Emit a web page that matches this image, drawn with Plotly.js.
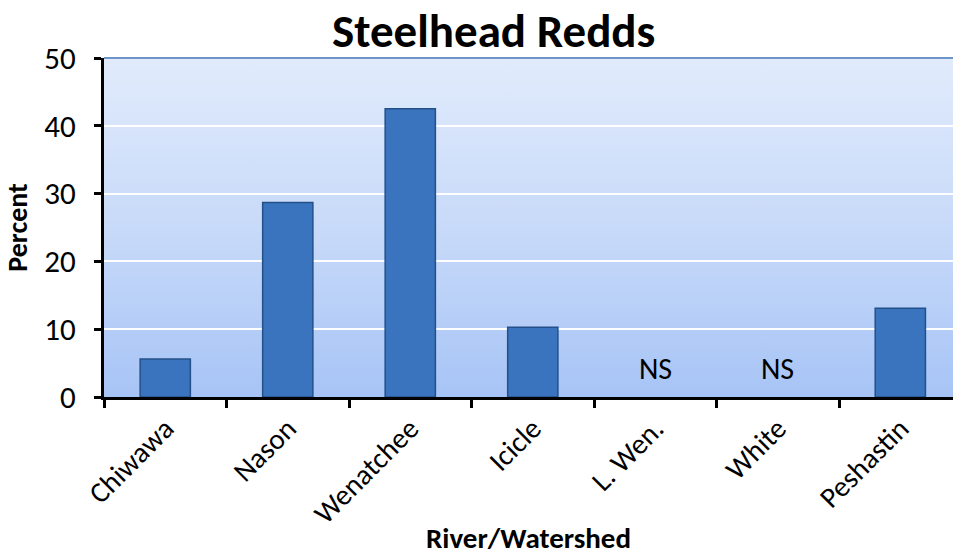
<!DOCTYPE html>
<html>
<head>
<meta charset="utf-8">
<script src="https://cdn.plot.ly/plotly-3.0.1.min.js"></script>
<style>html,body{margin:0;padding:0;background:#fff;overflow:hidden;}</style>
</head>
<body>
<div id="chart" style="width:953px;height:556px;"></div>
<script>
const categories = ["Chiwawa", "Nason", "Wenatchee", "Icicle", "L. Wen.", "White", "Peshastin"];
const percents = [5.6, 28.7, 42.5, 10.3, null, null, 13.1];
const notSampled = ["L. Wen.", "White"];
const nsLabel = "NS";
const nsY = 4.2;
const yTicks = [0, 10, 20, 30, 40, 50];

const FONT = "Carlito, Calibri, 'Open Sans', 'Noto Sans', sans-serif";

const gradSvg = '<svg xmlns="http://www.w3.org/2000/svg" width="10" height="100" preserveAspectRatio="none">' +
  '<defs><linearGradient id="g" x1="0" y1="0" x2="0" y2="1">' +
  '<stop offset="0" stop-color="#E1EBFC"/><stop offset="0.5" stop-color="#C8DAF9"/><stop offset="1" stop-color="#A7C4F6"/>' +
  '</linearGradient></defs><rect width="10" height="100" fill="url(#g)"/></svg>';
const gradUri = 'data:image/svg+xml;base64,' + btoa(gradSvg);

const trace = {
  type: 'bar',
  x: categories,
  y: percents,
  marker: { color: '#3A74BE', line: { color: '#24508A', width: 1.5 } },
  hoverinfo: 'x+y'
};

const annotations = notSampled.map(c => ({
  x: c, y: nsY, xref: 'x', yref: 'y', text: nsLabel, showarrow: false,
  font: { family: FONT, size: 30, color: '#000' }
}));

const layout = {
  width: 953, height: 556,
  margin: { l: 104, r: 0, t: 58, b: 159 },
  paper_bgcolor: '#fff',
  plot_bgcolor: 'rgba(0,0,0,0)',
  bargap: 0.59,
  showlegend: false,
  title: {
    text: '<b>Steelhead Redds</b>',
    font: { family: FONT, size: 47, color: '#000' },
    x: 0.518, xref: 'container', xanchor: 'center',
    y: 0.945, yref: 'container', yanchor: 'middle'
  },
  xaxis: {
    type: 'category',
    range: [-0.5, 6.43],
    tickangle: -45,
    tickson: 'boundaries',
    ticks: 'outside', ticklen: 8, tickwidth: 3, tickcolor: '#000',
    showline: true, linecolor: '#000', linewidth: 3,
    showgrid: false,
    tickfont: { family: FONT, size: 29, color: '#000' },
    title: { text: '<b>River/Watershed</b>', font: { family: FONT, size: 29, color: '#000' }, standoff: 11 },
    fixedrange: true
  },
  yaxis: {
    range: [0, 50],
    tickvals: yTicks,
    ticks: 'outside', ticklen: 7, tickwidth: 3, tickcolor: '#000',
    showline: true, linecolor: '#000', linewidth: 3,
    showgrid: true, gridcolor: '#fff', gridwidth: 2,
    zeroline: false,
    tickfont: { family: FONT, size: 31, color: '#000' },
    ticklabelstandoff: 12,
    title: { text: '<b>Percent</b>', font: { family: FONT, size: 28, color: '#000' }, standoff: 11 },
    fixedrange: true
  },
  images: [{
    source: gradUri, xref: 'paper', yref: 'paper', x: 0, y: 1, sizex: 1, sizey: 1,
    sizing: 'stretch', layer: 'below', xanchor: 'left', yanchor: 'top'
  }],
  shapes: [{
    type: 'line', xref: 'paper', yref: 'paper', x0: 0, x1: 1, y0: 1, y1: 1,
    line: { color: '#6E95C8', width: 2 }
  }],
  annotations: annotations
};

Plotly.newPlot('chart', [trace], layout, { displayModeBar: false, staticPlot: true });
</script>
</body>
</html>
